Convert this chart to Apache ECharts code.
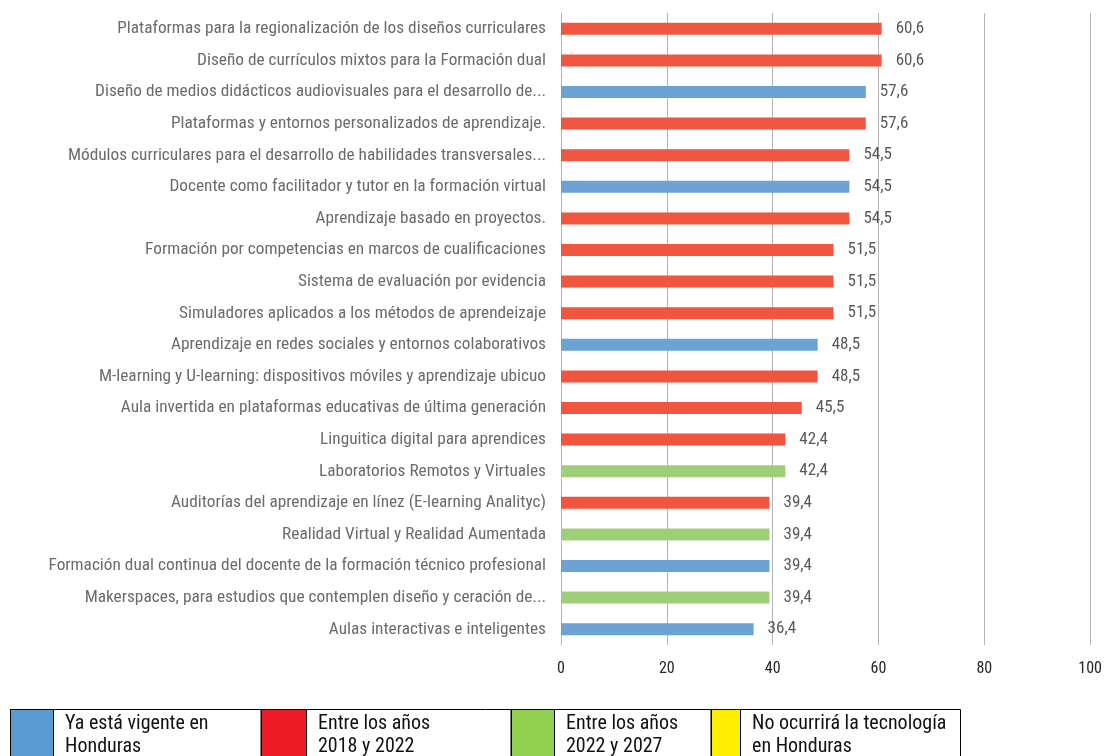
<!DOCTYPE html>
<html>
<head>
<meta charset="utf-8">
<script src="https://cdn.jsdelivr.net/npm/echarts@6/dist/echarts.min.js"></script>
<style>
  html, body { margin: 0; padding: 0; background: #fff; }
  #chart { width: 1105px; height: 756px; }
</style>
</head>
<body>
<div id="chart"></div>
<script>
  var categories = [
    "Plataformas para la regionalización de los diseños curriculares",
    "Diseño de currículos mixtos para la Formación dual",
    "Diseño de medios didácticos audiovisuales para el desarrollo de...",
    "Plataformas y entornos personalizados de aprendizaje.",
    "Módulos curriculares para el desarrollo de habilidades transversales...",
    "Docente como facilitador y tutor en la formación virtual",
    "Aprendizaje basado en proyectos.",
    "Formación por competencias en marcos de cualificaciones",
    "Sistema de evaluación por evidencia",
    "Simuladores aplicados a los métodos de aprendeizaje",
    "Aprendizaje en redes sociales y entornos colaborativos",
    "M-learning y U-learning: dispositivos móviles y aprendizaje ubicuo",
    "Aula invertida en plataformas educativas de última generación",
    "Linguitica digital para aprendices",
    "Laboratorios Remotos y Virtuales",
    "Auditorías del aprendizaje en línez (E-learning Analityc)",
    "Realidad Virtual y Realidad Aumentada",
    "Formación dual continua del docente de la formación técnico profesional",
    "Makerspaces, para estudios que contemplen diseño y ceración de...",
    "Aulas interactivas e inteligentes"
  ];
  var values = [60.6, 60.6, 57.6, 57.6, 54.5, 54.5, 54.5, 51.5, 51.5, 51.5,
                48.5, 48.5, 45.5, 42.4, 42.4, 39.4, 39.4, 39.4, 39.4, 36.4];
  // 0 = vigente, 1 = 2018-2022, 2 = 2022-2027
  var groups = [1, 1, 0, 1, 1, 0, 1, 1, 1, 1, 0, 1, 1, 1, 2, 1, 2, 0, 2, 0];
  var barColors = ["#6aa2d5", "#f0553f", "#9dcf78"];
  var legendNames = ["Ya está vigente en\nHonduras", "Entre los años\n2018 y 2022",
                     "Entre los años\n2022 y 2027", "No ocurrirá la tecnología\nen Honduras"];
  var legendColors = ["#5b9bd5", "#ed1c24", "#92d050", "#ffed00"];
  var xTicks = [0, 20, 40, 60, 80, 100];

  var font = "'Roboto Condensed', 'Liberation Sans Narrow', 'DejaVu Sans Condensed', Roboto, sans-serif";

  var chart = echarts.init(document.getElementById("chart"));

  var barData = values.map(function (v, i) {
    return { value: v, itemStyle: { color: barColors[groups[i]] } };
  });

  // legend drawn as a table, like the original
  var legendGraphics = [];
  var cellX = [10, 261, 511, 711];
  var swatchW = [43, 45, 43, 29];
  var boxTop = 709, boxH = 60;
  legendGraphics.push({
    type: "rect", left: 10, top: boxTop, shape: { width: 950, height: boxH },
    style: { fill: "#fff", stroke: "#000", lineWidth: 1 }, silent: true
  });
  legendNames.forEach(function (name, i) {
    legendGraphics.push({
      type: "rect", left: cellX[i], top: boxTop, shape: { width: swatchW[i], height: boxH },
      style: { fill: legendColors[i], stroke: "#000", lineWidth: 1 }, silent: true
    });
    legendGraphics.push({
      type: "text", left: cellX[i] + swatchW[i] + 12, top: boxTop + 3,
      style: { text: name, fill: "#111", font: "20px " + font, lineHeight: 23 }, silent: true
    });
    if (i > 0) {
      legendGraphics.push({
        type: "line", shape: { x1: cellX[i], y1: boxTop, x2: cellX[i], y2: boxTop + boxH },
        style: { stroke: "#000", lineWidth: 1 }, silent: true
      });
    }
  });

  chart.setOption({
    animation: false,
    backgroundColor: "#fff",
    textStyle: { fontFamily: font },
    grid: { left: 561, right: 14, top: 13, bottom: 111, containLabel: false },
    xAxis: {
      type: "value",
      min: xTicks[0],
      max: xTicks[xTicks.length - 1],
      interval: 20,
      axisLine: { show: false },
      axisTick: { show: false },
      axisLabel: { color: "#262626", fontSize: 16, margin: 16, fontFamily: font },
      splitLine: { show: true, lineStyle: { color: "#b5b5b5", width: 1 } }
    },
    yAxis: {
      type: "category",
      inverse: true,
      data: categories,
      axisLine: { show: true, lineStyle: { color: "#b5b5b5" } },
      axisTick: { show: false },
      axisLabel: { color: "#6b6b6b", fontSize: 17.3, margin: 15, fontFamily: font }
    },
    series: [{
      type: "bar",
      data: barData,
      barWidth: 12,
      label: {
        show: true,
        position: "right",
        distance: 14,
        color: "#595959",
        fontSize: 17,
        fontFamily: font,
        formatter: function (p) { return p.value.toFixed(1).replace(".", ","); }
      }
    }],
    graphic: legendGraphics
  });
</script>
</body>
</html>
